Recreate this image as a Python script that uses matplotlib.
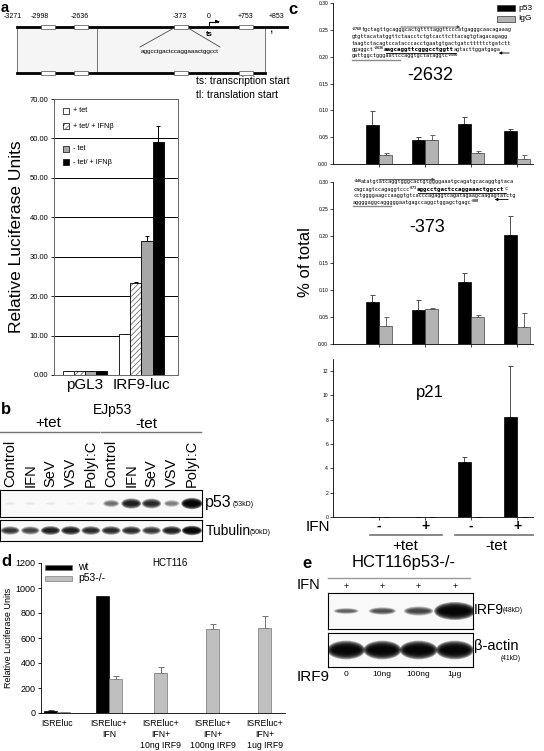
import numpy as np
import matplotlib.pyplot as plt
from matplotlib.patches import Rectangle, Ellipse

plt.rcParams["font.family"] = ["Liberation Sans", "DejaVu Sans"]
plt.rcParams["hatch.linewidth"] = 0.5

# ---------------- data ----------------
# a: promoter map and luciferase reporter
promoter_sites = ["-3271", "-2998", "-2636", "-373", "0", "+753", "+853"]
a_groups = ["pGL3", "IRF9-luc"]
a_series = ["+ tet", "+ tet/ + IFNβ", "- tet", "- tet/ + IFNβ"]
a_tet = [1.0, 10.3]
a_tet_ifn = [1.0, 23.3]
a_notet = [1.0, 34.0]
a_notet_ifn = [1.0, 59.0]
a_tet_err = [0.0, 0.2]
a_tet_ifn_err = [0.0, 0.3]
a_notet_err = [0.0, 1.2]
a_notet_ifn_err = [0.0, 4.2]

# b: western blot (relative band intensity)
b_lanes = ["Control", "IFN", "SeV", "VSV", "PolyI:C"] * 2
b_p53 = [0.06, 0.07, 0.06, 0.03, 0.07, 0.55, 0.9, 0.85, 0.5, 1.0]
b_tubulin = [0.8, 0.75, 0.9, 0.9, 0.85, 0.85, 0.85, 0.8, 0.9, 1.0]

# c: ChIP
c_ifn = ["-", "+", "-", "+"]
c_tet = ["+tet", "-tet"]
c2632_p53 = [0.072, 0.044, 0.075, 0.061]
c2632_p53_err = [0.026, 0.006, 0.013, 0.004]
c2632_igg = [0.017, 0.045, 0.020, 0.010]
c2632_igg_err = [0.003, 0.009, 0.005, 0.006]
c373_p53 = [0.078, 0.063, 0.114, 0.202]
c373_p53_err = [0.013, 0.019, 0.017, 0.035]
c373_igg = [0.034, 0.065, 0.050, 0.031]
c373_igg_err = [0.016, 0.002, 0.003, 0.027]
cp21_p53 = [0.03, 0.03, 4.55, 8.2]
cp21_p53_err = [0.0, 0.0, 0.35, 4.2]
cp21_igg = [0.01, 0.01, 0.01, 0.01]
cp21_igg_err = [0.0, 0.0, 0.0, 0.0]

# d: HCT116 luciferase
d_labels = ["ISREluc", "ISREluc+\nIFN", "ISREluc+\nIFN+\n10ng IRF9",
            "ISREluc+\nIFN+\n100ng IRF9", "ISREluc+\nIFN+\n1ug IRF9"]
d_wt = [20, 940, np.nan, np.nan, np.nan]
d_wt_err = [3, 0, 0, 0, 0]
d_ko = [8, 270, 320, 670, 680]
d_ko_err = [2, 25, 45, 45, 95]

# e: western blot
e_doses = ["0", "10ng", "100ng", "1μg"]
e_irf9 = [0.3, 0.4, 0.5, 1.0]
e_actin = [1.0, 1.0, 1.0, 1.0]

W, H = 544, 751
fig = plt.figure(figsize=(W / 100, H / 100), dpi=100)


def px_axes(x0, y0, x1, y1):
    return fig.add_axes([x0 / W, 1 - y1 / H, (x1 - x0) / W, (y1 - y0) / H])


def upper_err(ax, x, y, e, color, cap=1.8):
    e = np.asarray(e, float)
    ax.errorbar(x, y, yerr=[np.zeros_like(e), e], fmt="none", ecolor=color,
                elinewidth=0.7, capsize=cap, capthick=0.7)


# ---------------- a: bar chart ----------------
ax = px_axes(54, 99, 178, 375)
centers = np.array([0.5, 1.41])
bw = 0.18
vals = [a_tet, a_tet_ifn, a_notet, a_notet_ifn]
errs = [a_tet_err, a_tet_ifn_err, a_notet_err, a_notet_ifn_err]
fills = ["white", "white", "#a6a6a6", "black"]
for i, (v, e, fc) in enumerate(zip(vals, errs, fills)):
    x = centers + (i - 1.5) * bw
    if i == 1:
        ax.bar(x, v, bw, color="white", edgecolor="0.35", hatch="//////", lw=0, zorder=3)
        ax.bar(x, v, bw, facecolor="none", edgecolor="black", lw=0.6, zorder=4)
    else:
        ax.bar(x, v, bw, color=fc, edgecolor="black", lw=0.6, zorder=3)
    upper_err(ax, x, v, e, "black", cap=1.5)
ax.set_xlim(0, 2)
ax.set_ylim(0, 70)
ax.set_yticks(np.arange(0, 71, 10))
ax.set_yticklabels([f"{t:.2f}" for t in np.arange(0, 71, 10)], fontsize=5.5)
ax.yaxis.grid(True, color="black", lw=0.7)
ax.set_axisbelow(True)
ax.set_xticks(centers)
ax.set_xticklabels(a_groups, fontsize=11)
ax.tick_params(axis="x", length=0, pad=2)
ax.tick_params(axis="y", length=2, width=0.6, pad=2)
for s in ax.spines.values():
    s.set_color("0.4")
    s.set_linewidth(0.7)
ax.set_ylabel("Relative Luciferase Units", fontsize=12.5, labelpad=4)

# ---------------- c: ChIP panels ----------------
pos = np.arange(1, 5)
cw = 0.29


def chip(ax, p53, p53e, igg, igge, ymax, ticks, fmt):
    ax.bar(pos - cw / 2, p53, cw, color="black", edgecolor="black", lw=0.5, zorder=3)
    ax.bar(pos + cw / 2, igg, cw, color="#b3b3b3", edgecolor="0.25", lw=0.5, zorder=3)
    upper_err(ax, pos - cw / 2, p53, p53e, "0.3")
    upper_err(ax, pos + cw / 2, igg, igge, "0.4")
    ax.set_xlim(0, 4.35)
    ax.set_ylim(0, ymax)
    ax.set_yticks(ticks)
    ax.set_yticklabels([fmt.format(t) for t in ticks], fontsize=3.6)
    ax.set_xticks(pos)
    ax.set_xticklabels([])
    ax.tick_params(length=2, width=0.5, pad=1.5)
    for s in ["top", "right"]:
        ax.spines[s].set_visible(False)
    for s in ["left", "bottom"]:
        ax.spines[s].set_linewidth(0.6)


c1 = px_axes(333, 3, 533, 164)
chip(c1, c2632_p53, c2632_p53_err, c2632_igg, c2632_igg_err, 0.30,
     np.arange(0, 0.301, 0.05), "{:.2f}")
c2 = px_axes(333, 182, 533, 344)
chip(c2, c373_p53, c373_p53_err, c373_igg, c373_igg_err, 0.30,
     np.arange(0, 0.301, 0.05), "{:.2f}")
c3 = px_axes(333, 359, 533, 517)
chip(c3, cp21_p53, cp21_p53_err, cp21_igg, cp21_igg_err, 13,
     np.arange(0, 13, 2), "{:.0f}")

# ---------------- d: HCT116 bars ----------------
dx = px_axes(41, 563, 285, 713)
dbw = 0.25
for i, (w, we, k, ke) in enumerate(zip(d_wt, d_wt_err, d_ko, d_ko_err)):
    if np.isnan(w):
        xk = i
    else:
        xw, xk = i - dbw / 2, i + dbw / 2
        dx.bar(xw, w, dbw, color="black", edgecolor="black", lw=0.5, zorder=3)
        if we > 0:
            upper_err(dx, [xw], [w], [we], "0.3", cap=2.2)
    dx.bar(xk, k, dbw, color="#bfbfbf", edgecolor="0.45", lw=0.5, zorder=3)
    upper_err(dx, [xk], [k], [ke], "0.45", cap=2.2)
dx.set_xlim(-0.308, 4.385)
dx.set_ylim(0, 1200)
dx.set_yticks(np.arange(0, 1201, 200))
dx.tick_params(axis="y", labelsize=6.5, length=2.5, width=0.6, pad=1.5)
dx.set_xticks(np.arange(len(d_labels)))
dx.set_xticklabels(d_labels, fontsize=6.3, linespacing=1.3, va="top")
dx.tick_params(axis="x", length=0, pad=4.5)
for s in ["top", "right"]:
    dx.spines[s].set_visible(False)
for s in ["left", "bottom"]:
    dx.spines[s].set_linewidth(0.6)
dx.set_ylabel("Relative Luciferase Units", fontsize=6.5, labelpad=2)


# ---------------- blots ----------------
def blot(x0, y0, x1, y1, inten, wr, hr, d0=0.0):
    bx = px_axes(x0, y0, x1, y1)
    n = len(inten)
    bx.set_xlim(-0.5, n - 0.5)
    bx.set_ylim(0, 1)
    bx.set_xticks([])
    bx.set_yticks([])
    bx.set_facecolor("#f9f9f9")
    for s in bx.spines.values():
        s.set_linewidth(0.8)
    layers = np.linspace(1.0, 0.3, 9)
    for i, v in enumerate(inten):
        w = wr[0] + (wr[1] - wr[0]) * v
        h = hr[0] + (hr[1] - hr[0]) * v
        dens = min(0.97, d0 + (1 - d0) * v * 0.97)
        a = 1 - (1 - dens) ** (1 / len(layers))
        for f in layers:
            bx.add_patch(Ellipse((i, 0.5), w * (0.55 + 0.45 * f), h * f,
                                 color="black", alpha=a, lw=0))
    return bx


blot(0, 490, 202, 517, b_p53, (0.5, 1.05), (0.12, 0.42))
blot(0, 520, 202, 541, b_tubulin, (0.7, 1.0), (0.25, 0.45))
blot(328, 593, 473, 629, e_irf9, (0.5, 1.15), (0.02, 0.5), d0=0.45)
blot(328, 633, 473, 667, e_actin, (0.8, 1.05), (0.3, 0.55))

# ---------------- overlay (text & diagram) ----------------
ov = fig.add_axes([0, 0, 1, 1])
ov.set_xlim(0, W)
ov.set_ylim(H, 0)
ov.axis("off")


def t(x, y, s, size, **kw):
    kw.setdefault("ha", "left")
    kw.setdefault("va", "center")
    ov.text(x, y, s, fontsize=size, **kw)


# panel letters
t(1, 0.5, "a", 10.5, fontweight="bold", va="top")
for lx, ly, lab in [(1, 409, "b"), (288, 10, "c"), (1, 561, "d"), (302, 563, "e")]:
    t(lx, ly, lab, 12, fontweight="bold")

# a: promoter diagram
ov.add_patch(Rectangle((17, 27), 248, 46, facecolor="0.96", edgecolor="0.45", lw=0.7))
ov.plot([97, 97], [27, 73], color="0.45", lw=0.7)
ov.plot([17, 287], [27, 27], color="black", lw=2)
ov.plot([17, 265], [73, 73], color="black", lw=2)
site_x = [13, 40, 80, 180, 209, 246, 277]
for sx, lab in zip(site_x, promoter_sites):
    t(sx, 16, lab, 5, ha="center")
for bx0 in [41, 74, 174, 239]:
    for yy in (27, 73):
        ov.add_patch(Rectangle((bx0, yy - 1.6), 14, 3.2, facecolor="white",
                               edgecolor="0.3", lw=0.5, zorder=5))
ov.plot([209, 209, 218], [28, 21.5, 21.5], color="black", lw=0.8)
ov.annotate("", xy=(222, 21.5), xytext=(216, 21.5),
            arrowprops=dict(arrowstyle="-|>", color="black", lw=0.6, mutation_scale=5))
t(209, 34, "ts", 5.5, ha="center", fontweight="bold")
t(272, 33, "tl", 3.5, ha="center")
ov.plot([174, 140], [28, 47], color="0.3", lw=0.6)
ov.plot([188, 220], [28, 47], color="0.3", lw=0.6)
t(180, 52, "aggcctgactccaggaaactggcct", 4.6, ha="center")
t(196, 81, "ts: transcription start", 7.5)
t(196, 95, "tl: translation start", 7.5)

# a legend
a_leg_y = [111, 126, 149, 162]
for lab, fc, yy in zip(a_series, fills, a_leg_y):
    if lab == a_series[1]:
        ov.add_patch(Rectangle((63, yy - 2.8), 6, 5.6, facecolor="white",
                               edgecolor="0.35", hatch="//////", lw=0))
        ov.add_patch(Rectangle((63, yy - 2.8), 6, 5.6, facecolor="none",
                               edgecolor="black", lw=0.5))
    else:
        ov.add_patch(Rectangle((63, yy - 2.8), 6, 5.6, facecolor=fc,
                               edgecolor="black", lw=0.5))
    t(73, yy, lab, 5.3)

# b labels
t(113, 410, "EJp53", 10, ha="center")
t(48, 423, "+tet", 11, ha="center")
t(146, 424, "-tet", 11, ha="center")
ov.plot([0, 99], [432, 432], color="0.45", lw=1)
ov.plot([101, 201], [432, 432], color="0.45", lw=1)
for i, lab in enumerate(b_lanes):
    t(10.1 + 20.2 * i, 487, lab, 10.5, ha="center", va="bottom", rotation=90)
t(205, 503, "p53", 11.5)
t(233, 504, "(53kD)", 5)
t(206, 531, "Tubulin", 10)
t(250, 532, "(50kD)", 5)

# c legend
for lab, fc, yy in [("p53", "black", 8), ("IgG", "#b3b3b3", 19)]:
    ov.add_patch(Rectangle((497, yy - 3), 18, 6, facecolor=fc, edgecolor="0.2", lw=0.5))
    t(518, yy, lab, 6)

# c sequences (monospace, advance measured from the font size)
MONO = "DejaVu Sans Mono"
SIZES = {"n": 3.7, "s": 2.4, "b": 4.2}


def seq_line(x, y, segs):
    for s, kind in segs:
        size = SIZES[kind]
        if kind == "s":
            t(x, y - 1.2, s, size, family=MONO, fontweight="bold")
        elif kind == "b":
            t(x, y, s, size, family=MONO, fontweight="bold")
        else:
            t(x, y, s, size, family=MONO)
        x += len(s) * 0.602 * size * 100 / 72
    return x


seq_line(352, 30, [("-2768", "s"), ("tgctagttgcagggcactgttttaggttcccatgagggcaacagaaag", "n")])
seq_line(352, 36.5, [("gtgttacatatggttctaacctctgtcacttcttacagtgtagacagagg", "n")])
seq_line(352, 43, [("taagtctacagtccatacccacctgaatgtgactgatctttttctgatctt", "n")])
seq_line(352, 49.5, [("ggaggct", "n"), ("-2636", "s"), ("aagcaggttcgggcctggtt", "b"),
                     ("agtacttggatgaga", "n")])
seq_line(352, 56, [("gattggctgggaattccaggtgctataggtc", "n"), ("-2596", "s")])
ov.annotate("", xy=(463, 27), xytext=(398, 27),
            arrowprops=dict(arrowstyle="-|>", color="0.3", lw=0.6, mutation_scale=4))
ov.annotate("", xy=(496, 53), xytext=(512, 53),
            arrowprops=dict(arrowstyle="-|>", color="black", lw=0.6, mutation_scale=4))
ov.plot([352, 400], [59.5, 59.5], color="0.55", lw=1)
ov.plot([386, 456], [53, 53], color="black", lw=0.6)
t(430, 75, "-2632", 13, ha="center")

seq_line(353, 182, [("-446", "s"), ("atatgtatcaggtgggcactgtggggaaatgcagatgcacaggtgtaca", "n")])
seq_line(353, 189, [("cagcagtccagaggtccc", "n"), ("-373", "s"),
                    ("aggcctgactccaggaaactggcct", "b"), ("c", "n")])
seq_line(353, 196, [("cctggggaagccaaggtgtcacccagaggtcagatagaagcaagagtatctg", "n")])
seq_line(353, 202.5, [("aggggaggcagggggaatgagccaggctggagctgagc", "n"), ("-300", "s")])
ov.annotate("", xy=(438, 179.5), xytext=(376, 179.5),
            arrowprops=dict(arrowstyle="-|>", color="0.3", lw=0.6, mutation_scale=4))
ov.annotate("", xy=(492, 199.5), xytext=(511, 199.5),
            arrowprops=dict(arrowstyle="-|>", color="black", lw=0.6, mutation_scale=4))
ov.plot([353, 391], [205.5, 205.5], color="0.55", lw=1)
ov.plot([418, 506], [192.5, 192.5], color="black", lw=0.6)
t(427, 227, "-373", 13, ha="center")
t(430, 393, "p21", 12, ha="center")
t(305, 262, "% of total", 12, ha="center", rotation=90)

# c x annotations
t(306, 527, "IFN", 11)
for i, s in enumerate(c_ifn):
    t(379 + 46 * i, 526, s, 10, ha="center", fontweight="bold")
ov.plot([370, 442], [535, 535], color="0.45", lw=1.2)
ov.plot([455, 533], [535, 535], color="0.45", lw=1.2)
t(405, 546, c_tet[0], 11, ha="center")
t(496, 546, c_tet[1], 11, ha="center")

# d legend and title
for lab, fc, yy in [("wt", "black", 567), ("p53-/-", "#bfbfbf", 578)]:
    ov.add_patch(Rectangle((45, yy - 2.5), 27, 5, facecolor=fc, edgecolor="0.4", lw=0.4))
    t(78, yy, lab, 7.5)
t(170, 563, "HCT116", 7, ha="center")

# e labels
t(404, 563, "HCT116p53-/-", 12, ha="center")
ov.plot([328, 470], [578, 578], color="0.6", lw=1)
t(297, 585, "IFN", 10.5)
for i in range(len(e_doses)):
    t(346 + 36.25 * i, 587, "+", 6.5, ha="center")
t(474, 610, "IRF9", 10)
t(503, 611, "(48kD)", 4.8)
t(474, 646, "β-actin", 10.5)
t(511, 658, "(41kD)", 4.8, ha="center")
t(297, 677, "IRF9", 11)
for i, s in enumerate(e_doses):
    t(346 + 36.25 * i, 674, s, 6, ha="center")

fig.savefig("out.png", dpi=100)
